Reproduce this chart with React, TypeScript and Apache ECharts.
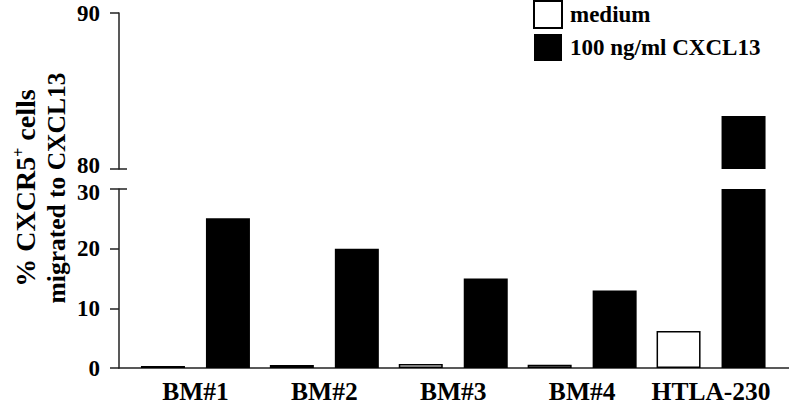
import React, { useEffect, useRef } from "react";
import * as echarts from "echarts";

const categories = ["BM#1", "BM#2", "BM#3", "BM#4", "HTLA-230"];
const mediumValues = [0.35, 0.5, 0.65, 0.55, 6.2];
const cxcl13Values = [25.1, 20.0, 15.0, 13.0, 83.4];
const lowerTicks = { min: 0, max: 30, interval: 10 };
const upperTicks = { min: 80, max: 90, interval: 10 };
const seriesNames = ["medium", "100 ng/ml CXCL13"];

const FONT = "'Liberation Serif', 'Times New Roman', serif";

export default function App() {
  const ref = useRef<HTMLDivElement>(null);

  useEffect(() => {
    if (!ref.current) return;
    const chart = echarts.init(ref.current, undefined, { renderer: "svg" });

    const axisLineStyle = { color: "#222", width: 1.5 };
    const labelStyle = {
      fontFamily: FONT,
      fontWeight: "bold" as const,
      fontSize: 23,
      lineHeight: 17,
      color: "#000",
    };

    const upperData = cxcl13Values.map((v) => (v > upperTicks.min ? v : "-"));

    chart.setOption({
      animation: false,
      backgroundColor: "#fff",
      legend: {
        data: seriesNames,
        orient: "vertical",
        left: 533,
        top: 0,
        padding: 0,
        icon: "rect",
        itemWidth: 28,
        itemHeight: 27,
        itemGap: 5,
        textStyle: {
          fontFamily: FONT,
          fontWeight: "bold",
          fontSize: 23,
          color: "#000",
          padding: [0, 0, 0, 3],
        },
      },
      grid: [
        { left: 131, right: 13.5, top: 189, bottom: 38 },
        { left: 131, right: 13.5, top: 13, height: 156 },
        { left: 119, right: 0, top: 189, bottom: 38 },
      ],
      xAxis: [
        {
          type: "category",
          gridIndex: 0,
          data: categories,
          axisLine: { show: false },
          axisTick: { show: false },
          axisLabel: {
            ...labelStyle,
            fontSize: 25.5,
            lineHeight: 26,
            margin: 10,
            interval: 0,
          },
        },
        {
          type: "category",
          gridIndex: 1,
          data: categories,
          show: false,
        },
        {
          type: "value",
          gridIndex: 2,
          axisLine: { show: true, lineStyle: axisLineStyle },
          axisTick: { show: false },
          axisLabel: { show: false },
          splitLine: { show: false },
        },
      ],
      yAxis: [
        {
          type: "value",
          gridIndex: 0,
          position: "left",
          offset: 12,
          ...lowerTicks,
          axisLine: { show: true, lineStyle: axisLineStyle },
          axisTick: { show: true, length: 9, lineStyle: axisLineStyle },
          axisLabel: {
            ...labelStyle,
            margin: 19,
            formatter: (v: number) =>
              v === lowerTicks.max ? "{d|" + v + "}" : String(v),
            rich: {
              d: {
                fontFamily: FONT,
                fontWeight: "bold",
                fontSize: 23,
                lineHeight: 17,
                color: "#000",
                padding: [6, 0, 0, 0],
              },
            },
          },
          splitLine: { show: false },
        },
        {
          type: "value",
          gridIndex: 1,
          position: "left",
          offset: 12,
          ...upperTicks,
          axisLine: { show: true, lineStyle: axisLineStyle },
          axisTick: { show: true, length: 9, lineStyle: axisLineStyle },
          axisLabel: {
            ...labelStyle,
            margin: 19,
            formatter: (v: number) =>
              v === upperTicks.min ? "{u|" + v + "}" : String(v),
            rich: {
              u: {
                fontFamily: FONT,
                fontWeight: "bold",
                fontSize: 23,
                lineHeight: 17,
                color: "#000",
                padding: [0, 0, 8, 0],
              },
            },
          },
          splitLine: { show: false },
        },
        {
          type: "value",
          gridIndex: 0,
          position: "left",
          offset: 12,
          ...lowerTicks,
          axisLine: { show: false },
          axisTick: {
            show: true,
            inside: true,
            length: 8,
            customValues: [lowerTicks.max],
            lineStyle: axisLineStyle,
          },
          axisLabel: { show: false },
          splitLine: { show: false },
        },
        {
          type: "value",
          gridIndex: 1,
          position: "left",
          offset: 12,
          ...upperTicks,
          axisLine: { show: false },
          axisTick: {
            show: true,
            inside: true,
            length: 8,
            customValues: [upperTicks.min],
            lineStyle: axisLineStyle,
          },
          axisLabel: { show: false },
          splitLine: { show: false },
        },
        {
          type: "value",
          gridIndex: 2,
          show: false,
        },
      ],
      series: [
        {
          type: "bar",
          name: seriesNames[0],
          xAxisIndex: 0,
          yAxisIndex: 0,
          data: mediumValues,
          barWidth: 44,
          barGap: "47.7%",
          itemStyle: { color: "#fff", borderColor: "#000", borderWidth: 1.5 },
        },
        {
          type: "bar",
          name: seriesNames[1],
          xAxisIndex: 0,
          yAxisIndex: 0,
          data: cxcl13Values,
          barWidth: 44,
          barGap: "47.7%",
          clip: true,
          itemStyle: { color: "#000" },
        },
        {
          type: "bar",
          name: seriesNames[0],
          xAxisIndex: 1,
          yAxisIndex: 1,
          data: categories.map(() => "-"),
          barWidth: 44,
          barGap: "47.7%",
          itemStyle: { color: "#fff", borderColor: "#000", borderWidth: 1.5 },
        },
        {
          type: "bar",
          name: seriesNames[1],
          xAxisIndex: 1,
          yAxisIndex: 1,
          data: upperData,
          barWidth: 44,
          barGap: "47.7%",
          clip: true,
          itemStyle: { color: "#000" },
        },
      ],
      graphic: [
        {
          type: "text",
          x: 41,
          y: 188,
          rotation: Math.PI / 2,
          style: {
            text: "{b|% CXCR5}{s|+}{b| cells}\n{a|migrated to CXCL13}",
            align: "center",
            verticalAlign: "middle",
            fill: "#000",
            rich: {
              a: {
                fontFamily: FONT,
                fontWeight: "bold",
                fontSize: 25.5,
                lineHeight: 31,
                fill: "#000",
              },
              b: {
                fontFamily: FONT,
                fontWeight: "bold",
                fontSize: 28,
                lineHeight: 31,
                fill: "#000",
              },
              s: {
                fontFamily: FONT,
                fontWeight: "bold",
                fontSize: 16,
                lineHeight: 31,
                verticalAlign: "top",
                fill: "#000",
              },
            },
          },
        },
      ],
    });

    return () => chart.dispose();
  }, []);

  return (
    <div
      ref={ref}
      style={{ position: "fixed", left: 0, top: 0, width: 789, height: 406 }}
    />
  );
}
